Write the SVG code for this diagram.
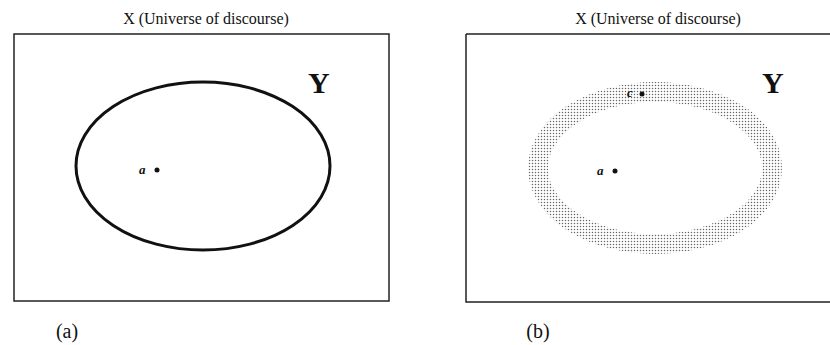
<svg xmlns="http://www.w3.org/2000/svg" width="830" height="345" viewBox="0 0 830 345">
<style>
.title{font-family:"Liberation Serif",serif;font-size:16px;fill:#111;text-anchor:middle}
.big{font-family:"Liberation Serif",serif;font-size:30px;font-weight:bold;fill:#111}
.lbl{font-family:"Liberation Serif",serif;font-size:13px;font-weight:bold;font-style:italic;fill:#111}
.cap{font-family:"Liberation Serif",serif;font-size:20px;fill:#111;text-anchor:middle}
.box{fill:#fff;stroke:#222;stroke-width:1.5}
.dot{fill:#111}
</style>
<defs>
<pattern id="dots" width="3" height="3" patternUnits="userSpaceOnUse">
<circle cx="1.5" cy="1.5" r="0.75" fill="#666"/>
</pattern>
</defs>
<rect width="830" height="345" fill="#fff"/>
<g id="panel-a">
<text class="title" x="206" y="24">X (Universe of discourse)</text>
<rect class="box" x="14" y="34" width="375" height="267"/>
<text class="big" x="308" y="93">Y</text>
<ellipse cx="203" cy="166" rx="127" ry="84" fill="none" stroke="#111" stroke-width="3"/>
<text class="lbl" x="139" y="174">a</text>
<circle class="dot" cx="157" cy="170" r="2.5"/>
<text class="cap" x="67" y="338">(a)</text>
</g>
<g id="panel-b">
<text class="title" x="658" y="24">X (Universe of discourse)</text>
<path d="M466 34 H830 M466 34 V302 H830" fill="none" stroke="#222" stroke-width="1.5"/>
<text class="big" x="762" y="93">Y</text>
<ellipse cx="655" cy="168" rx="117" ry="76" fill="none" stroke="url(#dots)" stroke-width="20"/>
<text class="lbl" x="597" y="175">a</text>
<circle class="dot" cx="615" cy="171" r="2.5"/>
<text class="lbl" x="627" y="97">c</text>
<circle class="dot" cx="642" cy="94" r="2.5"/>
<text class="cap" x="538" y="338">(b)</text>
</g>
</svg>
